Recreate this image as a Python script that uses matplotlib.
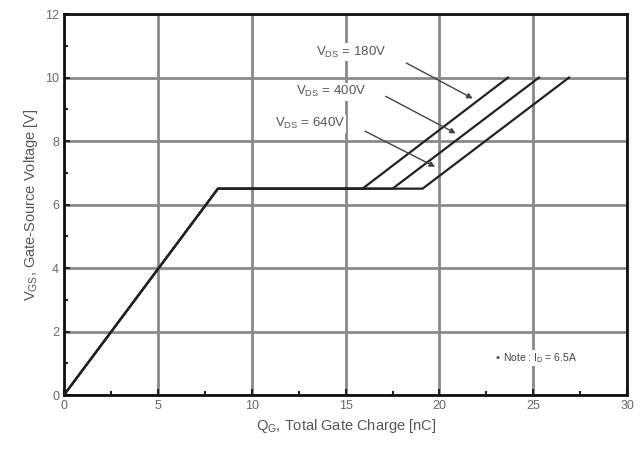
import matplotlib.pyplot as plt
from matplotlib.ticker import MultipleLocator

plt.rcParams['font.family'] = ['Liberation Sans', 'DejaVu Sans']
plt.rcParams['mathtext.default'] = 'regular'

# gate charge curves, one per V_DS
vds_labels = ['180V', '400V', '640V']
q_plateau_start = 8.2
v_plateau = 6.5
q_plateau_end = [15.9, 17.5, 19.1]
q_end = [23.65, 25.3, 26.9]
v_end = 10.0

# label positions and arrow targets (data coords)
label_pos = [(15.3, 10.8), (14.2, 9.55), (13.1, 8.55)]
arrow_from = [(18.1, 10.5), (17.0, 9.45), (15.9, 8.35)]
arrow_to = [(21.9, 9.3), (21.0, 8.2), (19.9, 7.15)]

fig = plt.figure(figsize=(6.43, 4.53), dpi=100)
ax = fig.add_axes([0.0995, 0.128, 0.876, 0.841])

for i in range(len(vds_labels)):
    xs = [0, q_plateau_start, q_plateau_end[i], q_end[i]]
    ys = [0, v_plateau, v_plateau, v_end]
    ax.plot(xs, ys, color='#222222', lw=1.6, zorder=3)

for i in range(len(vds_labels)):
    ax.annotate('', xy=arrow_to[i], xytext=arrow_from[i],
                arrowprops=dict(arrowstyle='-|>', color='#444444', lw=1.0,
                                mutation_scale=8), zorder=4)
    ax.text(label_pos[i][0], label_pos[i][1],
            'V$_{DS}$ = ' + vds_labels[i], ha='center', va='center',
            fontsize=9.5, color='#555555', zorder=5,
            bbox=dict(facecolor='white', edgecolor='none', pad=1))

ax.text(22.9, 1.17, '\u2022 Note : I$_D$ = 6.5A', fontsize=7.5,
        color='#444444', va='center', ha='left', zorder=5,
        bbox=dict(facecolor='white', edgecolor='none', pad=1))

ax.set_xlim(0, 30)
ax.set_ylim(0, 12)
ax.xaxis.set_major_locator(MultipleLocator(5))
ax.xaxis.set_minor_locator(MultipleLocator(2.5))
ax.yaxis.set_major_locator(MultipleLocator(2))
ax.yaxis.set_minor_locator(MultipleLocator(1))
ax.grid(True, which='major', color='#8a8a8a', lw=2.0, zorder=1)
ax.tick_params(which='both', direction='in', colors='#222222',
               labelcolor='#666666', labelsize=9)
ax.tick_params(which='major', length=4, width=1.5)
ax.tick_params(which='minor', length=3, width=1.5)
for s in ax.spines.values():
    s.set_linewidth(2.0)
    s.set_color('#111111')

ax.set_xlabel('Q$_G$, Total Gate Charge [nC]', fontsize=10.5, color='#555555')
ax.set_ylabel('V$_{GS}$, Gate-Source Voltage [V]', fontsize=10.5, color='#555555')

fig.savefig('out.png', dpi=100)
